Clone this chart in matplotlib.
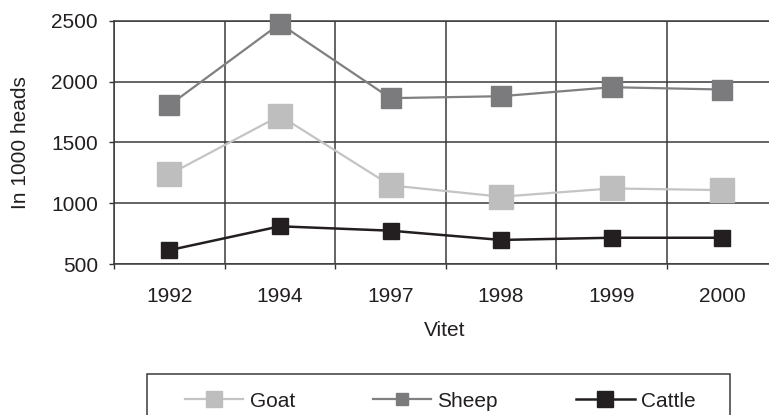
import matplotlib
matplotlib.use("Agg")
import matplotlib.pyplot as plt
from matplotlib.lines import Line2D
from matplotlib.patches import Rectangle

years = ["1992", "1994", "1997", "1998", "1999", "2000"]
goat = [1238, 1720, 1148, 1055, 1123, 1109]
sheep = [1806, 2475, 1864, 1880, 1954, 1935]
cattle = [616, 812, 776, 700, 718, 718]
yticks = [500, 1000, 1500, 2000, 2500]

plt.rcParams['font.family'] = ['Liberation Sans', 'DejaVu Sans']

W, H = 769, 415
FS = 15
fig = plt.figure(figsize=(W / 100, H / 100), dpi=100)

def px(x0, y0, x1, y1):
    return [x0 / W, 1 - y1 / H, (x1 - x0) / W, (y1 - y0) / H]

ax = fig.add_axes(px(114, 20.7, 777.6, 264.3))
x = list(range(len(years)))

c_goat = '#bebebe'
c_sheep = '#7b7b7d'
c_cattle = '#231f20'

ax.plot(x, goat, color='#c4c4c4', lw=1.6, marker='s', ms=17, mfc=c_goat, mec=c_goat, clip_on=False, zorder=3)
ax.plot(x, sheep, color='#808080', lw=1.6, marker='s', ms=14.2, mfc=c_sheep, mec=c_sheep, clip_on=False, zorder=4)
ax.plot(x, cattle, color=c_cattle, lw=1.8, marker='s', ms=11.6, mfc=c_cattle, mec=c_cattle, clip_on=False, zorder=5)

ax.set_xlim(-0.5, len(years) - 0.5)
ax.set_ylim(500, 2500)
ax.set_yticks(yticks)
ax.set_xticks([i - 0.5 for i in range(len(years) + 1)])
ax.set_xticklabels([])
ax.set_xticks(x, minor=True)
ax.set_xticklabels(years, minor=True)

ax.tick_params(axis='x', which='major', length=3.6, width=1.0, color='#333333', direction='out')
ax.tick_params(axis='x', which='minor', length=0, pad=16.0, labelsize=FS, labelcolor='#231f20')
ax.tick_params(axis='y', length=3.6, width=1.0, color='#333333', pad=8, labelsize=FS, labelcolor='#231f20')

ax.grid(True, which='major', color='#3a3a3a', lw=1.1, zorder=0)
ax.set_axisbelow(True)
for s in ['left', 'bottom', 'top']:
    ax.spines[s].set_color('#3a3a3a')
    ax.spines[s].set_linewidth(1.1)
ax.spines['right'].set_visible(False)

fig.text(445 / W, 1 - 331 / H, 'Vitet', ha='center', va='center', fontsize=FS, color='#231f20')
fig.text(20.5 / W, 1 - 142.5 / H, 'In 1000 heads', ha='center', va='center', rotation=90, fontsize=FS, color='#231f20')

# legend frame (extends below the figure edge)
fig.patches.append(Rectangle((146.5 / W, 1 - 440 / H), (729.6 - 146.5) / W, (440 - 374) / H,
                             transform=fig.transFigure, fill=False, edgecolor='#3a3a3a', lw=1.1))

handles = [
    Line2D([], [], color='#c4c4c4', lw=1.6, marker='s', ms=11, mfc=c_goat, mec=c_goat),
    Line2D([], [], color='#808080', lw=1.6, marker='s', ms=8, mfc=c_sheep, mec=c_sheep),
    Line2D([], [], color=c_cattle, lw=1.8, marker='s', ms=11, mfc=c_cattle, mec=c_cattle),
]
leg = fig.legend(handles, ['Goat', 'Sheep', 'Cattle'], loc='center left',
                 bbox_to_anchor=(185 / W, 1 - 401 / H), ncol=3, frameon=False,
                 fontsize=FS, handlelength=2.8, handletextpad=0.3, columnspacing=3.75,
                 borderpad=0, borderaxespad=0)
for t in leg.get_texts():
    t.set_color('#231f20')

fig.savefig('out.png', dpi=100)
